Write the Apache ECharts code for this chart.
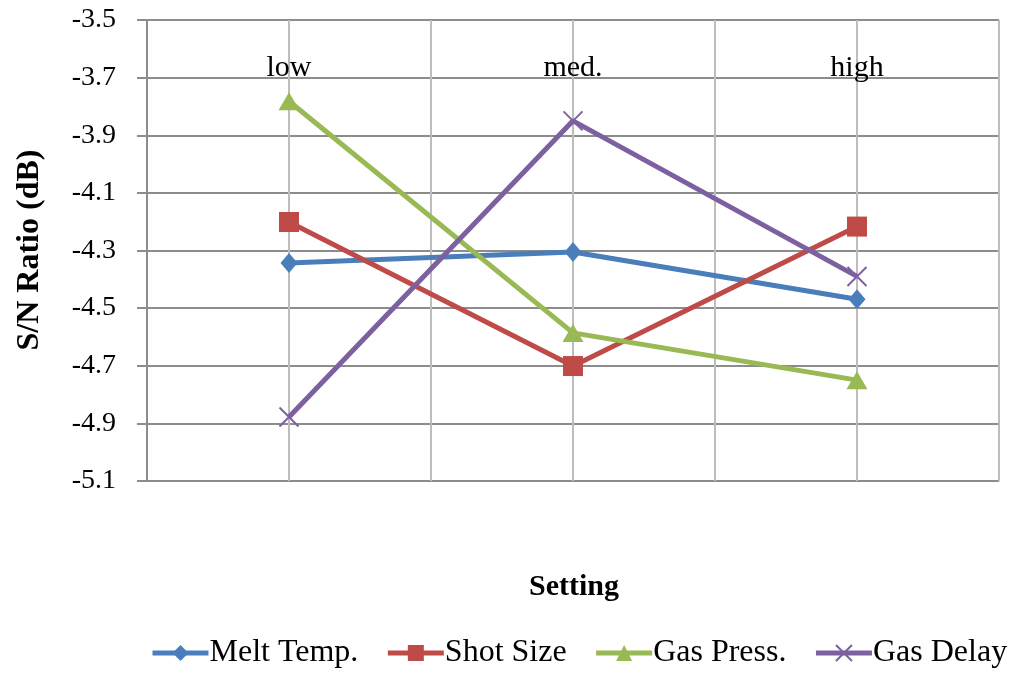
<!DOCTYPE html>
<html>
<head>
<meta charset="utf-8">
<script src="https://cdn.jsdelivr.net/npm/echarts@6/dist/echarts.min.js"></script>
<style>html,body{margin:0;padding:0;background:#fff}#c{width:1013px;height:676px}</style>
</head>
<body>
<div id="c"></div>
<script>
const categories = ['low', 'med.', 'high'];
const meltTemp = [-4.343, -4.305, -4.469];
const shotSize = [-4.201, -4.701, -4.217];
const gasPress = [-3.782, -4.586, -4.750];
const gasDelay = [-4.878, -3.850, -4.390];
const yTicks = { min: -5.1, max: -3.5, interval: 0.2 };

const FONT = 'Liberation Serif';
const chart = echarts.init(document.getElementById('c'));
const lineSeries = (name, data, color, symbol, size, extra) => Object.assign({
  name, type: 'line', data, xAxisIndex: 0, yAxisIndex: 0,
  symbol, symbolSize: size, showSymbol: true,
  lineStyle: { color, width: 5 },
  itemStyle: { color },
  emphasis: { disabled: true },
  animation: false
}, extra || {});

chart.setOption({
  animation: false,
  textStyle: { fontFamily: FONT },
  grid: { left: 147, right: 14, top: 20, bottom: 195, containLabel: false },
  legend: {
    left: 150, top: 637, width: 862, padding: 0,
    itemWidth: 56, itemHeight: 20, itemGap: 27,
    lineStyle: { width: 5 },
    textStyle: { fontFamily: FONT, fontSize: 32, color: '#000', padding: [0, 0, 0, -4] },
    data: ['Melt Temp.', 'Shot Size', 'Gas Press.', 'Gas Delay']
  },
  xAxis: [
    {
      type: 'category', data: categories, position: 'top', boundaryGap: true,
      axisLine: { show: false }, axisTick: { show: false },
      axisLabel: { inside: true, margin: 33, fontFamily: FONT, fontSize: 30, color: '#000' },
      splitLine: { show: false }
    },
    {
      type: 'value', min: 0, max: 6, interval: 1, position: 'bottom',
      axisLine: { show: false }, axisTick: { show: false }, axisLabel: { show: false },
      splitLine: { show: true, lineStyle: { color: '#bdbdbd', width: 2 } }
    }
  ],
  yAxis: {
    type: 'value', min: yTicks.min, max: yTicks.max, interval: yTicks.interval,
    axisLine: { show: true, lineStyle: { color: '#8c8c8c', width: 2 } },
    axisTick: { show: true, length: 10, lineStyle: { color: '#8c8c8c', width: 2 } },
    axisLabel: { margin: 31, fontFamily: FONT, fontSize: 28, color: '#000',
      formatter: v => v.toFixed(1) },
    splitLine: { show: true, lineStyle: { color: '#8c8c8c', width: 2 } }
  },
  graphic: [
    { type: 'text', x: 574, y: 587, style: { text: 'Setting', font: 'bold 30px "Liberation Serif"', fill: '#000', align: 'center', verticalAlign: 'middle' } },
    { type: 'text', rotation: Math.PI / 2, x: 30, y: 250, style: { text: 'S/N Ratio (dB)', font: 'bold 32px "Liberation Serif"', fill: '#000', align: 'center', verticalAlign: 'middle' } }
  ],
  series: [
    lineSeries('Melt Temp.', meltTemp, '#4A7EBB', 'diamond', [17, 20]),
    lineSeries('Shot Size', shotSize, '#BE4B48', 'rect', 20),
    lineSeries('Gas Press.', gasPress, '#98B954', 'triangle', [21, 18]),
    lineSeries('Gas Delay', gasDelay, '#7D60A0', 'path://M0,0L10,10M10,0L0,10', 19,
      { itemStyle: { color: '#7D60A0', borderColor: '#7D60A0', borderWidth: 2 } })
  ]
});
</script>
</body>
</html>
